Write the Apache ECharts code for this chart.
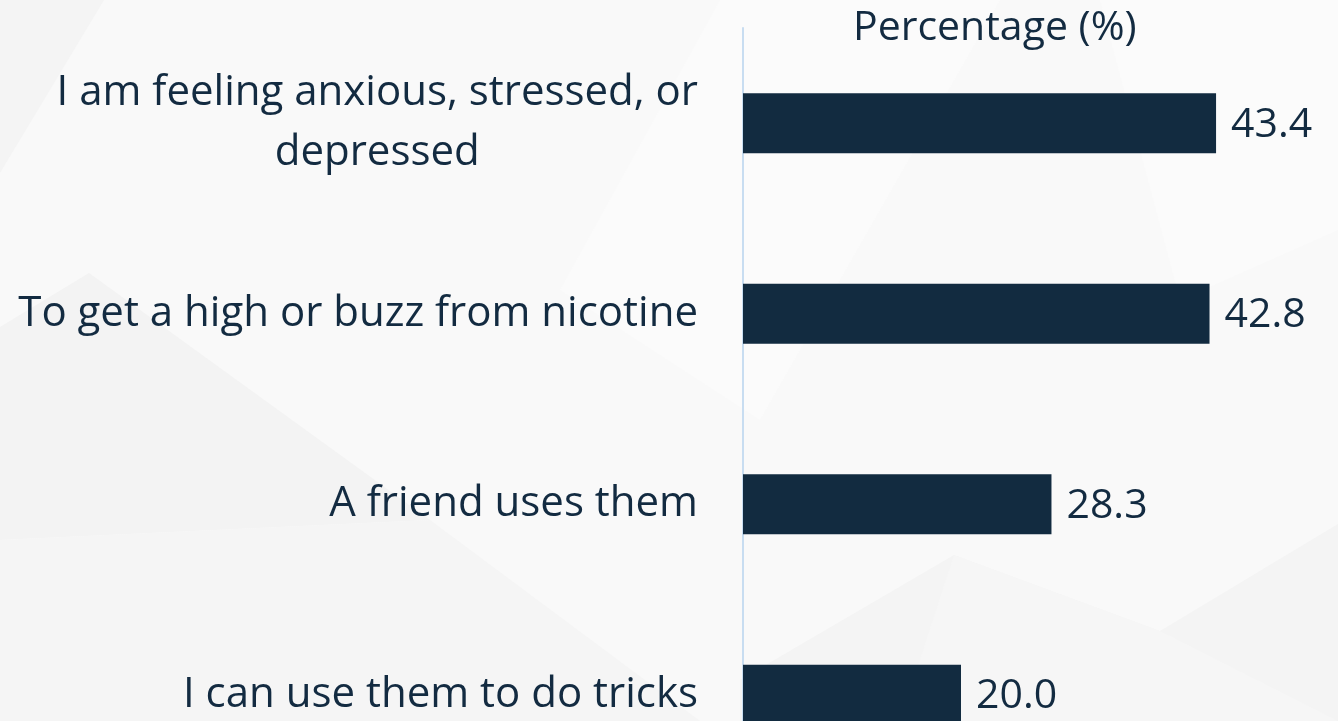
<!DOCTYPE html>
<html>
<head>
<meta charset="utf-8">
<title>Reasons for use</title>
<script src="https://cdn.jsdelivr.net/npm/echarts@6/dist/echarts.min.js"></script>
<style>
  html, body { margin: 0; padding: 0; background: #f9f9f9; }
  #chart { width: 1338px; height: 721px; }
</style>
</head>
<body>
<div id="chart"></div>
<script>
// Survey reasons and the share of respondents choosing each one
const categories = [
  'I am feeling anxious, stressed, or\ndepressed',
  'To get a high or buzz from nicotine',
  'A friend uses them',
  'I can use them to do tricks'
];
const percentages = [43.4, 42.8, 28.3, 20.0];
const axisTitle = 'Percentage (%)';

const ink = '#132b41';
const barColor = '#122b40';
const font = '"Open Sans", sans-serif';

const chart = echarts.init(document.getElementById('chart'), null, { renderer: 'canvas' });

// faint geometric backdrop
const backdrop = [
  { pts: [[0, 0], [104, 0], [0, 173]], fill: '#f4f4f4' },
  { pts: [[720, 0], [1000, 0], [760, 420], [560, 290]], fill: '#fbfbfb' },
  { pts: [[0, 327], [89, 273], [430, 520], [0, 540]], fill: '#f3f3f3' },
  { pts: [[0, 540], [430, 520], [700, 721], [0, 721]], fill: '#f5f5f5' },
  { pts: [[740, 680], [954, 555], [1160, 631], [1338, 524], [1338, 721], [740, 721]], fill: '#f4f4f4' },
  { pts: [[954, 555], [1160, 631], [1338, 721], [900, 721]], fill: '#f6f6f6' },
  { pts: [[1100, 0], [1338, 0], [1338, 230], [1180, 300]], fill: '#fbfbfb' }
];

chart.setOption({
  backgroundColor: '#f9f9f9',
  animation: false,
  graphic: backdrop.map(p => ({
    type: 'polygon',
    z: -10,
    silent: true,
    shape: { points: p.pts },
    style: { fill: p.fill }
  })),
  title: {
    text: axisTitle,
    left: 848,
    top: 3,
    textStyle: { fontFamily: font, fontSize: 41, fontWeight: 'normal', color: ink }
  },
  grid: {
    left: 743,
    top: 28,
    width: 545,
    bottom: -69,
    outerBoundsMode: 'none',
    containLabel: false
  },
  xAxis: {
    type: 'value',
    min: 0,
    max: 50,
    show: false
  },
  yAxis: {
    type: 'category',
    inverse: true,
    data: categories,
    axisLine: { show: true, lineStyle: { color: '#c8ddf1', width: 2 } },
    axisTick: { show: false },
    splitLine: { show: false },
    axisLabel: {
      margin: 45,
      fontFamily: font,
      fontSize: 42,
      color: ink,
      formatter: v => v.split('\n').map(s => '{c|' + s + '}').join('\n'),
      rich: {
        c: { align: 'center', fontFamily: font, fontSize: 42, color: ink, lineHeight: 60 }
      }
    }
  },
  series: [{
    type: 'bar',
    data: percentages,
    barWidth: 60,
    itemStyle: { color: barColor },
    label: {
      show: true,
      position: 'right',
      distance: 15,
      offset: [0, 2],
      fontFamily: font,
      fontSize: 41,
      color: ink,
      formatter: p => p.value.toFixed(1)
    }
  }]
});
</script>
</body>
</html>
